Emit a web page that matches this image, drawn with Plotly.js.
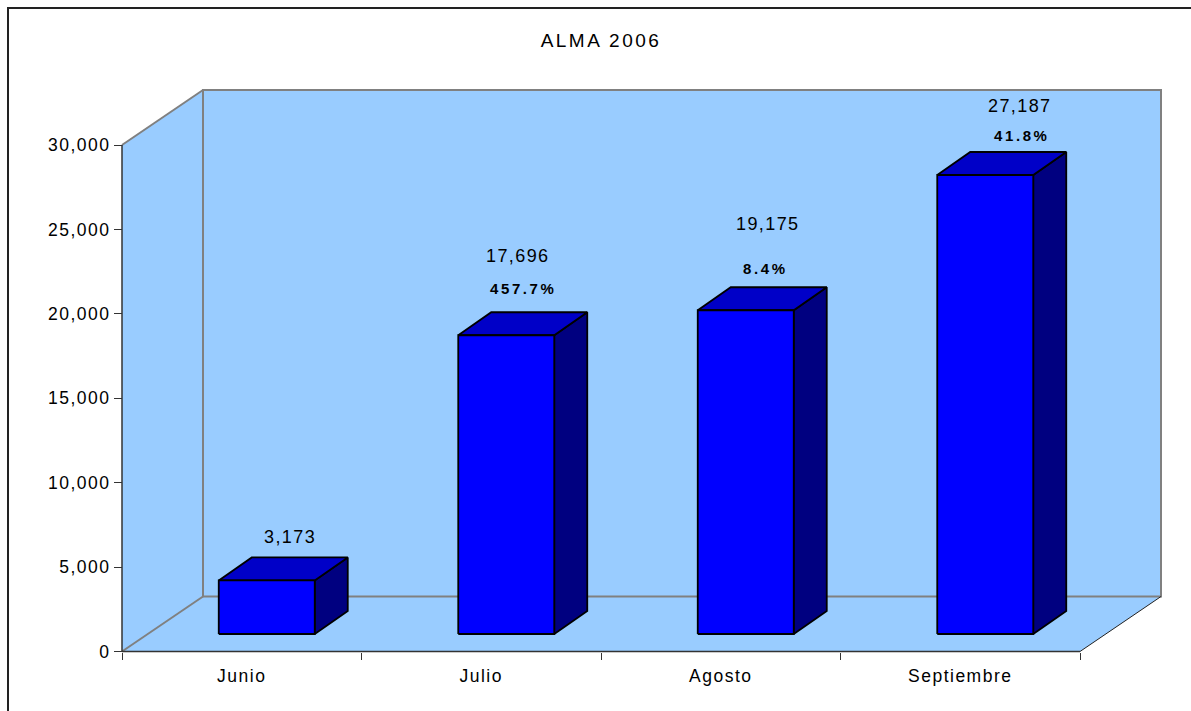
<!DOCTYPE html>
<html>
<head>
<meta charset="utf-8">
<script src="https://cdn.plot.ly/plotly-3.0.1.min.js"></script>
<style>
  html, body { margin: 0; padding: 0; background: #ffffff; }
  #chart { width: 1191px; height: 711px; }
  .xtick text, .ytick text { letter-spacing: 1.5px; }
  .gtitle { letter-spacing: 2.5px; }
</style>
</head>
<body>
<div id="chart"></div>
<script>
// ---- data ----
const categories = ['Junio', 'Julio', 'Agosto', 'Septiembre'];
const values = [3173, 17696, 19175, 27187];
const growthLabels = ['', '457.7%', '8.4%', '41.8%'];
const yTickValues = [0, 5000, 10000, 15000, 20000, 25000, 30000];
const chartTitle = 'ALMA 2006';

// ---- geometry (pixel-based style constants) ----
const PXX = 239.5;            // px per category
const PXY = 506.5 / 30000;    // px per value unit
const W = 1191, H = 711;
const mL = 120, mR = 27, mT = 88, mB = 58;
const plotW = W - mL - mR, plotH = H - mT - mB;
const xMin = -0.5 - 2 / PXX, xMax = xMin + plotW / PXX;
const yMin = -1.5 / PXY, yMax = yMin + plotH / PXY;

const wallDX = 81 / PXX, wallDY = 55 / PXY;     // depth of floor / walls
const barDX = 25 / PXX, barDY = 17.5 / PXY;     // bar position in depth
const barW = 96 / PXX;                          // bar width
const depDX = 33 / PXX, depDY = 23 / PXY;       // bar depth
const axTop = 30000;
const nCat = categories.length;
const xL = -0.5, xR = nCat - 0.5;

// ---- bar polygons built from data ----
const facesFront = {x: [], y: []}, facesTop = {x: [], y: []}, facesSide = {x: [], y: []};
values.forEach((v, i) => {
  const x0 = i + barDX - barW / 2, x1 = x0 + barW;
  const y0 = barDY, y1 = barDY + v;
  facesFront.x.push(x0, x1, x1, x0, x0, null);
  facesFront.y.push(y0, y0, y1, y1, y0, null);
  facesTop.x.push(x0, x1, x1 + depDX, x0 + depDX, x0, null);
  facesTop.y.push(y1, y1, y1 + depDY, y1 + depDY, y1, null);
  facesSide.x.push(x1, x1 + depDX, x1 + depDX, x1, x1, null);
  facesSide.y.push(y0, y0 + depDY, y1 + depDY, y1, y0, null);
});
function poly(p, color, name) {
  return {
    type: 'scatter', mode: 'lines', x: p.x, y: p.y, name: name,
    fill: 'toself', fillcolor: color,
    line: {color: '#000000', width: 1.8},
    hoverinfo: 'skip', showlegend: false, connectgaps: false
  };
}
const traces = [
  poly(facesSide, '#000080', 'side'),
  poly(facesTop, '#0000C8', 'top'),
  poly(facesFront, '#0000FF', 'front')
];

// ---- label placement (pixel shifts from top face centre) ----
const valShift = [[7, 32], [-5, 68], [5, 75], [18, 57]];
const pctShift = [[0, 0], [0, 35], [3, 30], [20, 28]];
const annotations = [];
values.forEach((v, i) => {
  const ax = i + barDX + depDX / 2;
  const ay = barDY + v + depDY / 2;
  annotations.push({
    x: ax, y: ay, xref: 'x', yref: 'y', showarrow: false,
    xanchor: 'center', yanchor: 'middle',
    xshift: valShift[i][0], yshift: valShift[i][1],
    text: '<span style="letter-spacing:1.4px">' + v.toLocaleString('en-US') + '</span>',
    font: {family: 'Liberation Sans, Arial, sans-serif', size: 18, color: '#000000'}
  });
  if (growthLabels[i]) {
    annotations.push({
      x: ax, y: ay, xref: 'x', yref: 'y', showarrow: false,
      xanchor: 'center', yanchor: 'middle',
      xshift: pctShift[i][0], yshift: pctShift[i][1],
      text: '<span style="letter-spacing:2.6px"><b>' + growthLabels[i] + '</b></span>',
      font: {family: 'Liberation Sans, Arial, sans-serif', size: 15, color: '#000000'}
    });
  }
});

// ---- walls, floor, axis lines ----
const grey = '#808080';
const shapes = [
  { type: 'path', xref: 'x', yref: 'y', layer: 'below',
    path: `M ${xL} 0 L ${xL} ${axTop} L ${xL + wallDX} ${axTop + wallDY} L ${xR + wallDX} ${axTop + wallDY} L ${xR + wallDX} ${wallDY} L ${xR} 0 Z`,
    fillcolor: '#99CCFF', line: {width: 0} },
  { type: 'rect', xref: 'x', yref: 'y', layer: 'below',
    x0: xL + wallDX, x1: xR + wallDX, y0: wallDY, y1: axTop + wallDY,
    line: {color: grey, width: 2}, fillcolor: 'rgba(0,0,0,0)' },
  { type: 'line', xref: 'x', yref: 'y', layer: 'below',
    x0: xL, y0: axTop, x1: xL + wallDX, y1: axTop + wallDY, line: {color: grey, width: 2} },
  { type: 'line', xref: 'x', yref: 'y', layer: 'below',
    x0: xL, y0: 0, x1: xL + wallDX, y1: wallDY, line: {color: grey, width: 2} },
  { type: 'line', xref: 'x', yref: 'y', layer: 'below',
    x0: xR, y0: 0, x1: xR + wallDX, y1: wallDY, line: {color: '#222222', width: 1} },
  { type: 'line', xref: 'x', yref: 'y', layer: 'below',
    x0: xL, y0: 0, x1: xL, y1: axTop, line: {color: '#333333', width: 1.5} },
  { type: 'line', xref: 'x', yref: 'y', layer: 'below',
    x0: xL, y0: 0, x1: xR, y1: 0, line: {color: '#333333', width: 1.5} },
  { type: 'rect', xref: 'paper', yref: 'paper', layer: 'above',
    x0: (8 - mL) / plotW, x1: 1.3, y0: -0.3, y1: (H - mB - 8) / plotH,
    line: {color: '#222222', width: 2}, fillcolor: 'rgba(0,0,0,0)' }
];

const fontFam = 'Liberation Sans, Arial, sans-serif';
const layout = {
  width: W, height: H,
  margin: {l: mL, r: mR, t: mT, b: mB, pad: 0},
  paper_bgcolor: '#ffffff', plot_bgcolor: 'rgba(0,0,0,0)',
  showlegend: false,
  title: {
    text: chartTitle, xref: 'container', yref: 'container',
    x: 601 / W, xanchor: 'center', y: 1 - 40 / H, yanchor: 'middle',
    font: {family: fontFam, size: 19, color: '#000000'}
  },
  xaxis: {
    range: [xMin, xMax], showgrid: false, zeroline: false, showline: false,
    anchor: 'free', position: 1.5 / plotH,
    tickmode: 'array', tickvals: categories.map((c, i) => i), ticktext: categories,
    ticks: '', ticklabelstandoff: 12,
    tickfont: {family: fontFam, size: 17.5, color: '#000000'},
    minor: {ticks: 'outside', ticklen: 7, tickwidth: 1, tickcolor: '#333333',
            tickmode: 'array', tickvals: categories.map((c, i) => i - 0.5).concat([nCat - 0.5]),
            showgrid: false},
    fixedrange: true
  },
  yaxis: {
    range: [yMin, yMax], showgrid: false, zeroline: false, showline: false,
    anchor: 'free', position: 2 / plotW,
    tickmode: 'array', tickvals: yTickValues, tickformat: ',d',
    ticks: 'outside', ticklen: 8, tickwidth: 1, tickcolor: '#333333',
    tickfont: {family: fontFam, size: 17.5, color: '#000000'},
    fixedrange: true
  },
  shapes: shapes,
  annotations: annotations,
  hovermode: false
};

Plotly.newPlot('chart', traces, layout, {displayModeBar: false, staticPlot: true});
</script>
</body>
</html>
